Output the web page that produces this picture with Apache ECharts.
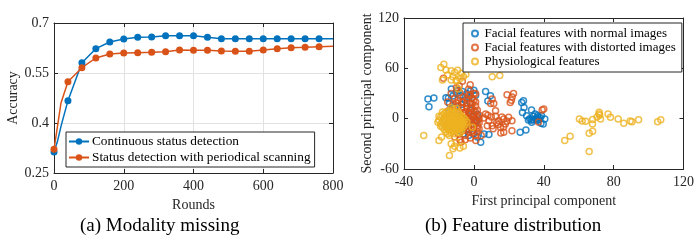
<!DOCTYPE html>
<html>
<head>
<meta charset="utf-8">
<script src="https://cdn.jsdelivr.net/npm/echarts@6/dist/echarts.min.js"></script>
<style>
  html, body { margin: 0; padding: 0; background: #fff; }
  #chart { width: 697px; height: 244px; }
</style>
</head>
<body>
<div id="chart"></div>
<script>
// (a) accuracy vs rounds
const rounds = [0, 10, 20, 40, 80, 120, 160, 200, 240, 280, 320, 360, 400, 440, 480, 520, 560, 600, 640, 680, 720, 760, 800];
const continuousAcc = [0.313, 0.345, 0.39, 0.467, 0.581, 0.623, 0.643, 0.652, 0.657, 0.658, 0.662, 0.662, 0.662, 0.657, 0.653, 0.653, 0.653, 0.653, 0.653, 0.653, 0.653, 0.653, 0.653];
const periodicAcc = [0.321, 0.39, 0.46, 0.524, 0.566, 0.595, 0.607, 0.610, 0.611, 0.612, 0.614, 0.619, 0.618, 0.618, 0.616, 0.615, 0.615, 0.619, 0.623, 0.626, 0.627, 0.629, 0.630];
const roundTicks = [0, 200, 400, 600, 800];
const accTicks = [0.25, 0.4, 0.55, 0.7];

// (b) PCA scatter, [first, second]
const normalFeat = [
  [-26.3, 23.4], [-22.9, 24.6], [-25.7, 14.2],
  [-12.9, 35.3], [-14.6, 24.6], [-6.5, 32.4], [-10, 30], [-8, 28], [-4, 30], [-2, 33], [0, 34], [1, 28],
  [-3, 25], [-12, 27], [-16, 25], [-9, 34], [-5, 22], [-14, 18], [-11, 14], [-7, 17], [-2, 19],
  [-10, 5], [-6, 0], [-3, -3], [0, 2], [1, -5], [2, 5], [-1, -10], [-4, -12], [-8, -14], [-12, -10],
  [-15, -6], [-17, 0], [-14, 8], [-2, 10], [1.5, -2],
  [3.9, -28.1], [0, -18], [2, -22], [-3, -20], [-6, -18], [8.6, -19], [5.8, -18.2],
  [6.7, 32.4], [9.5, 27.3], [8, 21],
  [27.4, 19.4], [28.7, 13.4], [27.8, 7.5], [28.4, 21.4], [33, 10.3], [30.2, 3.6], [31.2, -1.5], [33, -2],
  [35, 5.6], [36.7, 2], [38.7, 3.6], [40.6, -0.4], [39.7, -6.3], [38.4, -5.6], [36, -2], [34, -1],
  [33.1, -4.4], [32, 0], [35.5, 0], [37, -1], [34, 3], [36.5, 4], [38, 1],
  [29.8, -13.4], [26.5, -16.3]
];
const distortedFeat = [
  [-17.4, 48.3], [-2.1, 40.4], [-6.6, 44.5], [-8.4, 39.2], [-10, 37], [-13, 30], [-3, 28], [0, 22],
  [-6, 20], [-9, 15], [-12, 10], [-4, 12], [1, 15], [-2, 5], [0, -2], [2, -8], [-1, -14], [-5, -20],
  [-8, -25], [-7.4, -28.1], [1.1, -26.1], [4.2, -20.2], [-3, -16], [-6, -10], [-8, 2], [-5, 8], [1, 8],
  [3, 0], [2, 10], [-3, 35], [-11, 24], [-15, 20], [-12, 16], [-9, 22], [-6, 26], [-1, 24], [-4, 18],
  [-7, 12], [1, 30], [-2, 0], [-4, -5], [0, -10], [3, -12], [-2, -23], [2, -16], [-6, -14], [-9, -18],
  [-11, -22], [-5, 4], [-8, 8], [-3, -8], [-6, -2], [2, -3], [0, 5], [3, 4], [-1, 12], [-14.6, 9.5],
  [-1, 18], [-4, 24], [0, 30], [-3, -12], [1, -20], [-5, -25], [2, 2], [-1, -6], [3, -5],
  [-4, 2], [-1, 3], [1, -1], [-3, 7], [0, 9], [-2, -3], [-5, -9], [-1, -17], [2, -11], [-4, 15],
  [-7, 20], [-2, 14], [-6, 7], [1, 20], [-10, 19], [-2, 28], [-8, 31],
  [19, 28.5], [22.7, 30], [21.9, 25.7], [20.8, 19.4], [21.5, 22], [10.5, 23.4], [11.4, 18], [9.6, 18],
  [6.7, 5.6], [5.8, 0.8], [12.4, 9.5], [12.4, 3], [14.2, -2.4], [17.1, -0.4], [19.9, 1.6], [21.8, -2.4],
  [18, -6.3], [15.2, -10.3], [17.1, -16.3], [15.4, -17], [21.8, -14.3], [10.5, -8.3], [8.6, -2.4],
  [7.7, -8.3], [10, 2], [13, -5], [16, 2], [19, -3], [11, -12], [14, -7], [8, 4], [17, -10],
  [39.1, 10.3], [40, 11.5], [37, -4]
];
const physioFeat = [
  [-17.2, 65], [-18.9, 60.9], [-16, 58], [-13, 57], [-9.3, 57.8], [-11, 55], [-7, 54], [-4.6, 53],
  [-15, 52], [-12, 50], [-10, 46], [-13, 46], [-8, 48], [-18, 46], [-6, 50], [-10, 44.5], [-8.9, 35.3],
  [10.5, 49.9], [14.8, 51.4],
  [-20, -2], [-19, -6], [-19, 2], [-18, -10], [-18, -4], [-18, 4], [-17, -13], [-17, -7], [-17, 0],
  [-17, 6], [-16, -16], [-16, -10], [-16, -3], [-16, 3], [-16, 8], [-15, -18], [-15, -12], [-15, -6],
  [-15, 0], [-15, 5], [-14, -14], [-14, -9], [-14, -3], [-14, 2], [-14, 9], [-13, -17], [-13, -11],
  [-13, -5], [-13, 0], [-13, 6], [-12, -15], [-12, -9], [-12, -2], [-12, 3], [-12, 11], [-11, -18],
  [-11, -12], [-11, -6], [-11, 0], [-11, 7], [-10, -14], [-10, -8], [-10, -3], [-10, 4], [-9, -16],
  [-9, -10], [-9, -5], [-9, 1], [-9, 8], [-8, -12], [-8, -6], [-8, 0], [-8, 5], [-7, -14], [-7, -8],
  [-7, -2], [-7, 3], [-6, -10], [-6, -4], [-6, 1], [-5, -7], [-5, -1], [-4, -4], [-19, -9], [-20, 3],
  [-18, 8], [-10, 12], [-13, 13], [-14, -20], [-8, -17], [-20.6, -4.4], [-0.8, -10.3],
  [-16.5, -1], [-14.5, -11], [-13.5, 3], [-12.5, -6], [-11.5, -15], [-10.5, 1], [-9.5, -12], [-8.5, -3],
  [-7.5, -11], [-6.5, -6], [-12.5, 8], [-15.5, -8], [-10.5, -5], [-8.5, 3], [-13.5, -13], [-11.5, -3],
  [-28.7, -20.2], [-20, -26.1], [-18.5, -22], [-14, -43.9], [-13, -30], [-11, -33], [-8, -35],
  [-6, -33], [-10, -28], [-12, -36],
  [52, -26.1], [55.1, -21], [60.4, -0.4], [62, -2.9], [64, -3], [66, -17.4], [68, -15], [67.9, -6.3],
  [68, -1], [70.5, 2], [71.7, 5.6], [71.7, 7.7], [72, 4], [72.5, -0.4], [76.8, 5.6], [78.2, 1.8],
  [82.6, -0.4], [85.8, -5.6], [89.5, -2.7], [90.5, -3.6], [94.3, -1.2], [105.2, -3.6], [107, -1.2],
  [66, -39.2]
];
const pcTicksX = [-40, 0, 40, 80, 120];
const pcTicksY = [-60, 0, 60, 120];

const blue = '#0072BD', orange = '#D95319', yellow = '#EDB120';
const ink = '#262626';
const font = 'Liberation Serif';

const chart = echarts.init(document.getElementById('chart'));

function frameAxis(gridIndex, pos, min, max, interval) {
  return {
    type: 'value', gridIndex, position: pos, min, max, interval,
    axisLine: { show: true, onZero: false, lineStyle: { color: ink, width: 1 } },
    axisTick: { show: true, inside: true, length: 4, lineStyle: { color: ink } },
    axisLabel: { show: false },
    splitLine: { show: false }
  };
}

function mainAxis(gridIndex, pos, min, max, interval, name, nameGap, grid, dec) {
  return {
    type: 'value', gridIndex, position: pos, min, max, interval,
    name, nameLocation: 'middle', nameGap,
    nameTextStyle: { fontFamily: font, fontSize: 14, color: ink },
    axisLine: { show: true, onZero: false, lineStyle: { color: ink, width: 1 } },
    axisTick: { show: true, inside: true, length: 4, lineStyle: { color: ink } },
    axisLabel: {
      fontFamily: font, fontSize: 14, color: ink, margin: pos === 'left' ? 5 : 6,
      formatter: v => dec ? String(+v.toFixed(2)) : String(v)
    },
    splitLine: { show: grid, lineStyle: { color: '#e2e2e2', width: 1 } }
  };
}

function markAt(r) { return r % 40 === 0 && r < 800; }

const option = {
  animation: false,
  backgroundColor: '#fff',
  grid: [
    { left: 54, top: 23, width: 279, height: 150 },
    { left: 404, top: 18, width: 283, height: 151 }
  ],
  xAxis: [
    mainAxis(0, 'bottom', roundTicks[0], roundTicks[roundTicks.length - 1], 200, 'Rounds', 21, true, false),
    frameAxis(0, 'top', 0, 800, 200),
    mainAxis(1, 'bottom', pcTicksX[0], pcTicksX[pcTicksX.length - 1], 40, 'First principal component', 22, false, false),
    frameAxis(1, 'top', -40, 120, 40)
  ],
  yAxis: [
    mainAxis(0, 'left', accTicks[0], accTicks[accTicks.length - 1], 0.15, 'Accuracy', 32, true, true),
    frameAxis(0, 'right', 0.25, 0.7, 0.15),
    mainAxis(1, 'left', pcTicksY[0], pcTicksY[pcTicksY.length - 1], 60, 'Second principal component', 27, false, false),
    frameAxis(1, 'right', -60, 120, 60)
  ],
  legend: [
    {
      data: ['Continuous status detection', 'Status detection with periodical scanning'],
      orient: 'vertical', left: 66, top: 132,
      padding: [3, 4, 3, 2], itemGap: 3, itemWidth: 20, itemHeight: 8,
      backgroundColor: '#fff', borderColor: ink, borderWidth: 1, borderRadius: 0,
      textStyle: { fontFamily: font, fontSize: 13.3, color: '#000', padding: [0, 0, 0, -2] }
    },
    {
      data: ['Facial features with normal images', 'Facial features with distorted images', 'Physiological features'],
      orient: 'vertical', left: 463, top: 23,
      padding: [4, 6, 4, 8], itemGap: 1, itemWidth: 9, itemHeight: 6,
      backgroundColor: '#fff', borderColor: ink, borderWidth: 1, borderRadius: 0,
      textStyle: { fontFamily: font, fontSize: 13, color: '#000' }
    }
  ],
  series: [
    {
      name: 'Continuous status detection', type: 'line', xAxisIndex: 0, yAxisIndex: 0,
      data: rounds.map((r, i) => ({ value: [r, continuousAcc[i]], symbol: markAt(r) ? 'circle' : 'none' })),
      symbol: 'circle', symbolSize: 7,
      lineStyle: { color: blue, width: 1.5 }, itemStyle: { color: blue }
    },
    {
      name: 'Status detection with periodical scanning', type: 'line', xAxisIndex: 0, yAxisIndex: 0,
      data: rounds.map((r, i) => ({ value: [r, periodicAcc[i]], symbol: markAt(r) ? 'circle' : 'none' })),
      symbol: 'circle', symbolSize: 7,
      lineStyle: { color: orange, width: 1.5 }, itemStyle: { color: orange }
    },
    {
      name: 'Facial features with normal images', type: 'scatter', xAxisIndex: 2, yAxisIndex: 2,
      data: normalFeat, symbol: 'circle', symbolSize: 6,
      itemStyle: { color: 'rgba(255,255,255,0)', borderColor: blue, borderWidth: 1.5 }
    },
    {
      name: 'Facial features with distorted images', type: 'scatter', xAxisIndex: 2, yAxisIndex: 2,
      data: distortedFeat, symbol: 'circle', symbolSize: 6,
      itemStyle: { color: 'rgba(255,255,255,0)', borderColor: orange, borderWidth: 1.5 }
    },
    {
      name: 'Physiological features', type: 'scatter', xAxisIndex: 2, yAxisIndex: 2,
      data: physioFeat, symbol: 'circle', symbolSize: 6,
      itemStyle: { color: 'rgba(255,255,255,0)', borderColor: yellow, borderWidth: 1.5 }
    }
  ],
  graphic: [
    { type: 'text', left: 80, top: 217, style: { text: '(a) Modality missing', font: '19px "Liberation Serif"', fill: '#000' } },
    { type: 'text', left: 425, top: 217, style: { text: '(b) Feature distribution', font: '19px "Liberation Serif"', fill: '#000' } }
  ]
};

chart.setOption(option);
</script>
</body>
</html>
